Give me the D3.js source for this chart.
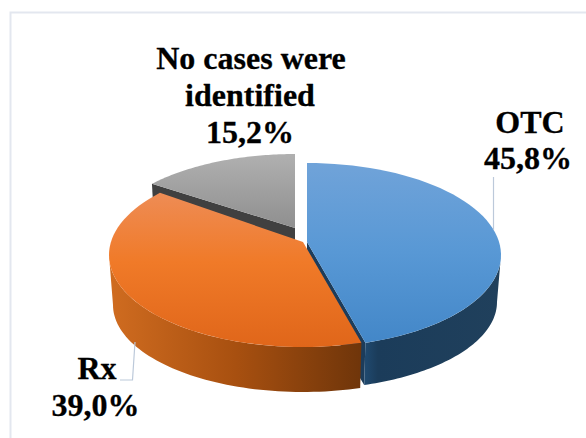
<!DOCTYPE html>
<html>
<head>
<meta charset="utf-8">
<script src="https://cdn.jsdelivr.net/npm/d3@7"></script>
<style>
  html, body { margin: 0; padding: 0; background: #fff; }
  text { font-family: "Liberation Serif", serif; font-weight: bold; font-size: 32px; fill: #000; stroke: #000; stroke-width: 0.3px; text-anchor: middle; }
</style>
</head>
<body>
<div id="container"></div>
<script>
/* DATA */
const categories = ["OTC", "Rx", "No cases were identified"];
const shares = [45.8, 39.0, 15.2];
const shareLabels = ["45,8%", "39,0%", "15,2%"];

/* CONSTANTS */
const width = 586, height = 438;

// the 3D view squeezes the angles a little, this maps real pie angle to drawn angle
const deg = Math.PI / 180;
const viewAngle = d3.scaleLinear()
  .domain([0, 164.9 * deg, 305.3 * deg, 360 * deg])
  .range([0, 162.5 * deg, 312.5 * deg, 360 * deg]);

// top and bottom ellipse of every exploded slice
const geom = {
  "OTC": { apex: [307, 242], cx: 307, cy: 255, dy: 47 },
  "Rx": { apex: [303, 242], cx: 303, cy: 255, dy: 50 },
  "No cases were identified": { apex: [295, 228], cx: 295, cy: 246, dy: 47 }
};
const rx = 194, ry = 92, rxBottom = 190, ryBottom = 87;

const svg = d3.select("#container").append("svg")
  .attr("width", width)
  .attr("height", height)
  .style("display", "block");

/* GRADIENTS */
const defs = svg.append("defs");
function linear(id, horizontal, stops) {
  const g = defs.append("linearGradient").attr("id", id)
    .attr("x1", 0).attr("y1", 0)
    .attr("x2", horizontal ? 1 : 0).attr("y2", horizontal ? 0 : 1);
  stops.forEach(s => g.append("stop").attr("offset", s[0]).attr("stop-color", s[1]));
}
linear("topOTC", false, [[0, "#70a3d9"], [0.5, "#5898d5"], [1, "#4387c8"]]);
linear("topRx", false, [[0, "#ee8c55"], [0.45, "#f07a28"], [1, "#e0661a"]]);
linear("topNo", false, [[0, "#b0b0b0"], [1, "#8f8f8f"]]);
linear("wallOTC", true, [[0, "#204a70"], [0.1, "#1b3c5a"], [1, "#20405c"]]);
linear("wallRx", true, [[0, "#d06c20"], [0.5, "#a85010"], [1, "#6f350a"]]);

const topFill = { "OTC": "url(#topOTC)", "Rx": "url(#topRx)", "No cases were identified": "url(#topNo)" };

/* PIE */
const pie = d3.pie().sort(null).value(d => d);
const slices = pie(shares).map((d, i) => ({
  name: categories[i],
  a0: viewAngle(d.startAngle),
  a1: viewAngle(d.endAngle)
}));

function topPoint(g, a) {
  return [g.cx + rx * Math.sin(a), g.cy - ry * Math.cos(a)];
}
function bottomPoint(g, a) {
  return [g.cx + rxBottom * Math.sin(a), g.cy + g.dy - ryBottom * Math.cos(a)];
}
const line = d3.line();
function arcPoints(fn, g, a0, a1) {
  return d3.range(0, 61).map(k => fn(g, a0 + (a1 - a0) * k / 60));
}

// slice top face
function topFace(s) {
  const g = geom[s.name];
  return line([g.apex, ...arcPoints(topPoint, g, s.a0, s.a1)]) + "Z";
}
// rounded outer wall, only the part facing the viewer
function wall(s) {
  const g = geom[s.name];
  const a0 = Math.max(s.a0, 90 * deg), a1 = Math.min(s.a1, 270 * deg);
  return line([...arcPoints(topPoint, g, a0, a1), ...arcPoints(bottomPoint, g, a0, a1).reverse()]) + "Z";
}
// flat cut face along one edge of the slice
function cut(s, a) {
  const g = geom[s.name];
  const apexLow = [g.apex[0], g.apex[1] + g.dy];
  return line([g.apex, topPoint(g, a), bottomPoint(g, a), apexLow]) + "Z";
}

const [otc, rxSlice, none] = slices;

/* FRAME, only top and left show in the picture */
svg.append("path").attr("d", "M586,12.5H10.5V438")
  .attr("fill", "none").attr("stroke", "#e3e7ef").attr("stroke-width", 2);

/* DRAW, back to front */
svg.append("path").attr("d", cut(none, none.a0)).attr("fill", "#404040");
svg.append("path").attr("d", topFace(none)).attr("fill", topFill[none.name]);

svg.append("path").attr("d", cut(otc, otc.a1)).attr("fill", "#1d3c5a");
svg.append("path").attr("d", wall(otc)).attr("fill", "url(#wallOTC)");
svg.append("path").attr("d", topFace(otc)).attr("fill", topFill[otc.name]);

svg.append("path").attr("d", wall(rxSlice)).attr("fill", "url(#wallRx)");
svg.append("path").attr("d", topFace(rxSlice)).attr("fill", topFill[rxSlice.name]);

/* LEADER LINES */
svg.append("path").attr("d", "M493.5,177V230").attr("fill", "none").attr("stroke", "#bcc9da").attr("stroke-width", 1.2);
svg.append("path").attr("d", "M135,342L132.5,380H120").attr("fill", "none").attr("stroke", "#bcc9da").attr("stroke-width", 1.2);

/* LABELS */
const labelRows = [
  { x: 530, y: 133, t: categories[0] },
  { x: 528, y: 169, t: shareLabels[0] },
  { x: 97, y: 379, t: categories[1] },
  { x: 95.5, y: 416, t: shareLabels[1] },
  { x: 251, y: 69, t: "No cases were" },
  { x: 250, y: 106, t: "identified" },
  { x: 250, y: 143, t: shareLabels[2] }
];
svg.selectAll(".label").data(labelRows).join("text")
  .attr("class", "label")
  .attr("x", d => d.x)
  .attr("y", d => d.y)
  .text(d => d.t);
</script>
</body>
</html>
